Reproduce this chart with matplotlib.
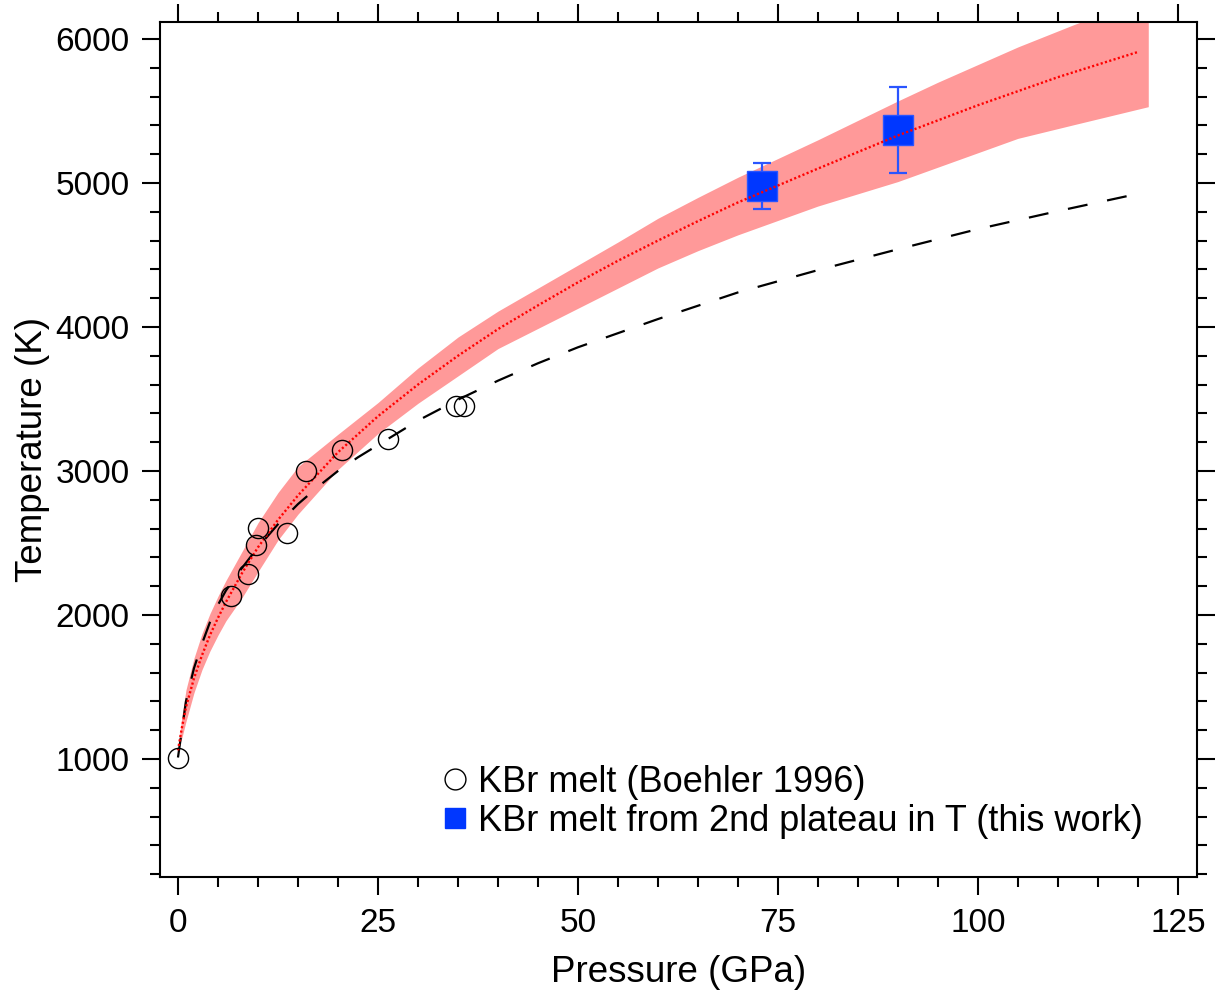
import matplotlib
matplotlib.use('Agg')
import matplotlib.pyplot as plt
from matplotlib.lines import Line2D
from matplotlib.ticker import MultipleLocator

plt.rcParams['font.family'] = ['Liberation Sans', 'DejaVu Sans']

# Boehler 1996 melting points (GPa, K)
boehler_p = [0, 6.6, 8.8, 9.75, 10.0, 13.6, 16.0, 20.5, 26.3, 34.7, 35.7]
boehler_t = [1010, 2130, 2285, 2484, 2606, 2572, 3002, 3148, 3225, 3450, 3450]

# this work: melt from 2nd plateau in T
work_p = [73, 90]
work_t = [4980, 5370]
work_err = [158, 298]

# fitted melt curve (red dotted)
fit_p = [0, 0.5, 1, 2, 3, 4, 5, 6, 8, 10, 12.5, 15, 20, 25, 30, 35, 40, 45,
         50, 55, 60, 65, 70, 80, 90, 100, 110, 120]
fit_t = [1060, 1220, 1360, 1560, 1720, 1860, 1980, 2090, 2290, 2470, 2660, 2830,
         3130, 3380, 3600, 3800, 3985, 4150, 4310, 4460, 4600, 4735, 4865, 5100,
         5330, 5540, 5735, 5910]

# uncertainty band of the fit
band_p = [0, 0.5, 1, 2, 3, 4, 5, 6, 8, 10, 12.5, 15, 20, 25, 30, 35, 40, 45,
          50, 55, 60, 65, 70, 80, 90, 95, 105, 112, 121.3]
band_hi = [1075, 1300, 1480, 1700, 1870, 2010, 2130, 2240, 2440, 2640, 2850, 3030,
           3255, 3475, 3715, 3930, 4110, 4270, 4430, 4590, 4755, 4900, 5040, 5300,
           5570, 5700, 5945, 6100, 6290]
band_lo = [1065, 1150, 1260, 1460, 1620, 1750, 1860, 1960, 2120, 2300, 2520, 2700,
           3010, 3260, 3470, 3660, 3850, 3990, 4130, 4270, 4410, 4530, 4640, 4840,
           5010, 5110, 5310, 5405, 5530]

# Boehler melt curve extrapolation (black dashed)
dash_p = [0, 1, 2, 3, 4, 5, 6, 7.5, 10, 12.5, 15, 17.5, 20, 22.5, 25, 30, 35, 40,
          45, 50, 55, 60, 70, 80, 90, 100, 110, 120]
dash_t = [1010, 1400, 1630, 1800, 1950, 2070, 2170, 2290, 2470, 2630, 2770, 2890,
          3000, 3095, 3180, 3350, 3495, 3627, 3748, 3859, 3957, 4055, 4240, 4395,
          4540, 4680, 4805, 4925]

fig = plt.figure(figsize=(12.24, 9.92), dpi=100)
ax = fig.add_axes([0.1307, 0.1159, 0.8473, 0.8619])

ax.fill_between(band_p, band_lo, band_hi, color='#ff9999', lw=0, zorder=1)
ax.plot(dash_p, dash_t, color='black', lw=1.6, dashes=(9, 9), zorder=2)
ax.errorbar(work_p, work_t, yerr=work_err, fmt='s', color='#0037ff', ms=21,
            mec='#2a55ff', ecolor='#2a55ff', elinewidth=1.6, capsize=6.5,
            capthick=1.6, zorder=3)
ax.plot(fit_p, fit_t, color='red', lw=1.7, dashes=(0.9, 1.0), zorder=4)
ax.plot(boehler_p, boehler_t, 'o', mfc='none', mec='black', ms=14.5, mew=1.0,
        zorder=5)

ax.set_xlim(-2.25, 127.4)
ax.set_ylim(180, 6118)
ax.xaxis.set_major_locator(MultipleLocator(25))
ax.xaxis.set_minor_locator(MultipleLocator(5))
ax.yaxis.set_major_locator(MultipleLocator(1000))
ax.yaxis.set_minor_locator(MultipleLocator(200))

ax.tick_params(which='both', direction='out', top=True, right=True, width=1.5,
               labelsize=24)
ax.tick_params(which='major', length=13, pad=9)
ax.tick_params(which='minor', length=7)
for s in ax.spines.values():
    s.set_linewidth(1.5)

ax.set_xlabel('Pressure (GPa)', fontsize=26.5, labelpad=12)
ax.set_ylabel('Temperature (K)', fontsize=26.5, labelpad=4)

handles = [
    Line2D([], [], ls='none', marker='o', mfc='none', mec='black', ms=15, mew=1.0),
    Line2D([], [], ls='none', marker='s', color='#0037ff', ms=14),
]
labels = ['KBr melt (Boehler 1996)', 'KBr melt from 2nd plateau in T (this work)']
ax.legend(handles, labels, loc='lower left', bbox_to_anchor=(0.2705, 0.045),
          frameon=False, fontsize=26, handlelength=0.8, handletextpad=0.25,
          borderpad=0, borderaxespad=0, labelspacing=0.1)

fig.savefig('out.png', dpi=100)
